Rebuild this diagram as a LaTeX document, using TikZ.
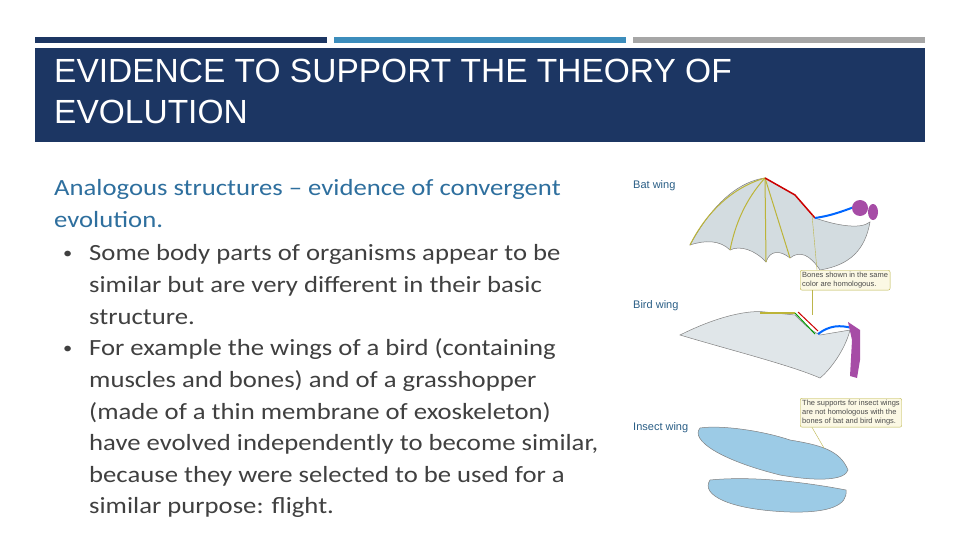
\documentclass[tikz,border=0pt]{standalone}
\usepackage{fontspec}
\setmainfont{Carlito}[FakeStretch=1.15]
\newfontfamily\titlefont{Liberation Sans}
\newfontfamily\lab{Liberation Sans}
\definecolor{navy}{HTML}{1C3663}
\definecolor{midblue}{HTML}{3C8DBC}
\definecolor{bargray}{HTML}{A6A6A6}
\definecolor{headblue}{HTML}{2E6F9E}
\definecolor{bodytxt}{HTML}{404040}
\definecolor{wgray}{HTML}{D3DCE0}
\definecolor{wblue}{HTML}{9CCBE6}
\definecolor{calbg}{HTML}{FBF8E4}
\definecolor{labc}{HTML}{2A5E86}
\tikzset{
 body/.style={anchor=base west,inner sep=0,text=bodytxt,font=\fontsize{23.2}{28}\selectfont},
 wlab/.style={anchor=base west,inner sep=0,text=labc,font=\lab\fontsize{11}{13}\selectfont},
 callout/.style={draw=olive!60,fill=calbg,rounded corners=2pt,align=left,inner sep=2pt,font=\lab\fontsize{7.5}{9}\selectfont,text=black!70},
 wing/.style={draw=black!50,line width=0.5pt}
}
\begin{document}
\begin{tikzpicture}[x=1pt,y=-1pt]
\useasboundingbox (0,0) rectangle (960,540);
\fill[white] (0,0) rectangle (960,540);
\fill[navy] (35,37) rectangle (327,43);
\fill[midblue] (334,37) rectangle (626,43);
\fill[bargray] (633,37) rectangle (925,43);
\fill[navy] (35,48) rectangle (925,142);
\node[anchor=base west,inner sep=0,text=white,font=\titlefont\fontsize{33.5}{40}\selectfont] (t1) at (54,83) {EVIDENCE TO SUPPORT THE THEORY OF};
\node[anchor=base west,inner sep=0,text=white,font=\titlefont\fontsize{33.5}{40}\selectfont] (t2) at (54,124) {EVOLUTION};
\node[body,text=headblue] (h1) at (54,195) {Analogous structures – evidence of convergent};
\node[body,text=headblue] (h2) at (54,227) {evolution.};
\node[body,font=\fontsize{16}{18}\selectfont] (b1) at (63,258) {•};
\node[body,font=\fontsize{16}{18}\selectfont] (b2) at (63,353) {•};
\node[body] (l1) at (89,260) {Some body parts of organisms appear to be};
\node[body] (l2) at (89,292) {similar  but are very different in their basic};
\node[body] (l3) at (89,324) {structure.};
\node[body] (l4) at (89,355) {For example the wings of a bird (containing};
\node[body] (l5) at (89,387) {muscles and bones) and of a grasshopper};
\node[body] (l6) at (89,419) {(made of a thin membrane of exoskeleton)};
\node[body] (l7) at (89,450) {have evolved independently to become similar,};
\node[body] (l8) at (89,482) {because they were selected to be used for a};
\node[body] (l9) at (89,513) {similar purpose: flight.};
% labels
\node[wlab] (bat) at (633,188) {Bat wing};
\node[wlab] (bird) at (633,308) {Bird wing};
\node[wlab] (ins) at (633,430) {Insect wing};
% bat wing
\fill[wing,fill=wgray] (690,245) .. controls (720,190) and (750,180) .. (765,178)
 -- (795,195) -- (815,218) .. controls (835,225) and (860,230) .. (870,222)
 .. controls (865,250) and (850,265) .. (820,270)
 .. controls (810,255) and (800,250) .. (790,258) .. controls (780,250) and (770,250) .. (766,262)
 .. controls (755,250) and (740,245) .. (730,250) .. controls (720,240) and (705,240) .. (690,245) -- cycle;
\draw[yellow!70!black,line width=1pt] (765,178) .. controls (740,185) and (710,205) .. (690,245);
\draw[yellow!70!black,line width=1pt] (765,178) .. controls (745,200) and (735,225) .. (730,250);
\draw[yellow!70!black,line width=1pt] (765,178) -- (766,262);
\draw[yellow!70!black,line width=1pt] (765,178) -- (790,258);
\draw[red!80!black,line width=1.5pt] (765,178) -- (795,195) -- (815,218);
\draw[blue!60!cyan,line width=2pt] (815,218) .. controls (835,215) and (845,210) .. (860,205);
\fill[violet!70] (860,208) circle (8);
\fill[violet!70] (873,212) ellipse (5 and 8);
% bird wing
\fill[wing,fill=wgray!70] (680,335) .. controls (720,315) and (750,310) .. (765,312)
 -- (795,315) .. controls (805,325) and (810,330) .. (820,335) -- (850,330)
 .. controls (845,350) and (830,370) .. (820,378) .. controls (790,365) and (730,350) .. (680,335) -- cycle;
\draw[yellow!70!black,line width=2pt] (760,313) -- (795,313);
\draw[green!60!black,line width=1pt] (795,313) -- (815,334);
\draw[red!80!black,line width=1pt] (798,312) -- (818,331);
\draw[blue!60!cyan,line width=2pt] (818,334) .. controls (830,325) and (840,325) .. (852,328);
\fill[violet!70] (848,322) -- (860,330) -- (860,360) -- (857,378) -- (850,376) -- (852,340) -- cycle;
% insect wing
\fill[wing,fill=wblue] (700,428) .. controls (690,440) and (720,460) .. (780,475) .. controls (820,482) and (845,480) .. (848,470)
 .. controls (840,450) and (820,445) .. (790,440) .. controls (760,430) and (720,425) .. (700,428) -- cycle;
\fill[wing,fill=wblue] (710,480) .. controls (700,495) and (730,510) .. (790,512) .. controls (830,513) and (848,505) .. (846,490)
 .. controls (820,485) and (760,475) .. (710,480) -- cycle;
% callouts
\node[callout,anchor=north west] (c1) at (800,270) {Bones shown in the same\\color are homologous.};
\node[callout,anchor=north west] (c2) at (800,398) {The supports for insect wings\\are not homologous with the\\bones of bat and bird wings.};
\draw[olive!60] (c1.north west) ++(17,0) -- (812,215);
\draw[olive!60] (c1.south west) ++(12,0) -- (812,315);
\draw[olive!60] (c2.south west) ++(12,0) -- (824,448);
\end{tikzpicture}
\end{document}
